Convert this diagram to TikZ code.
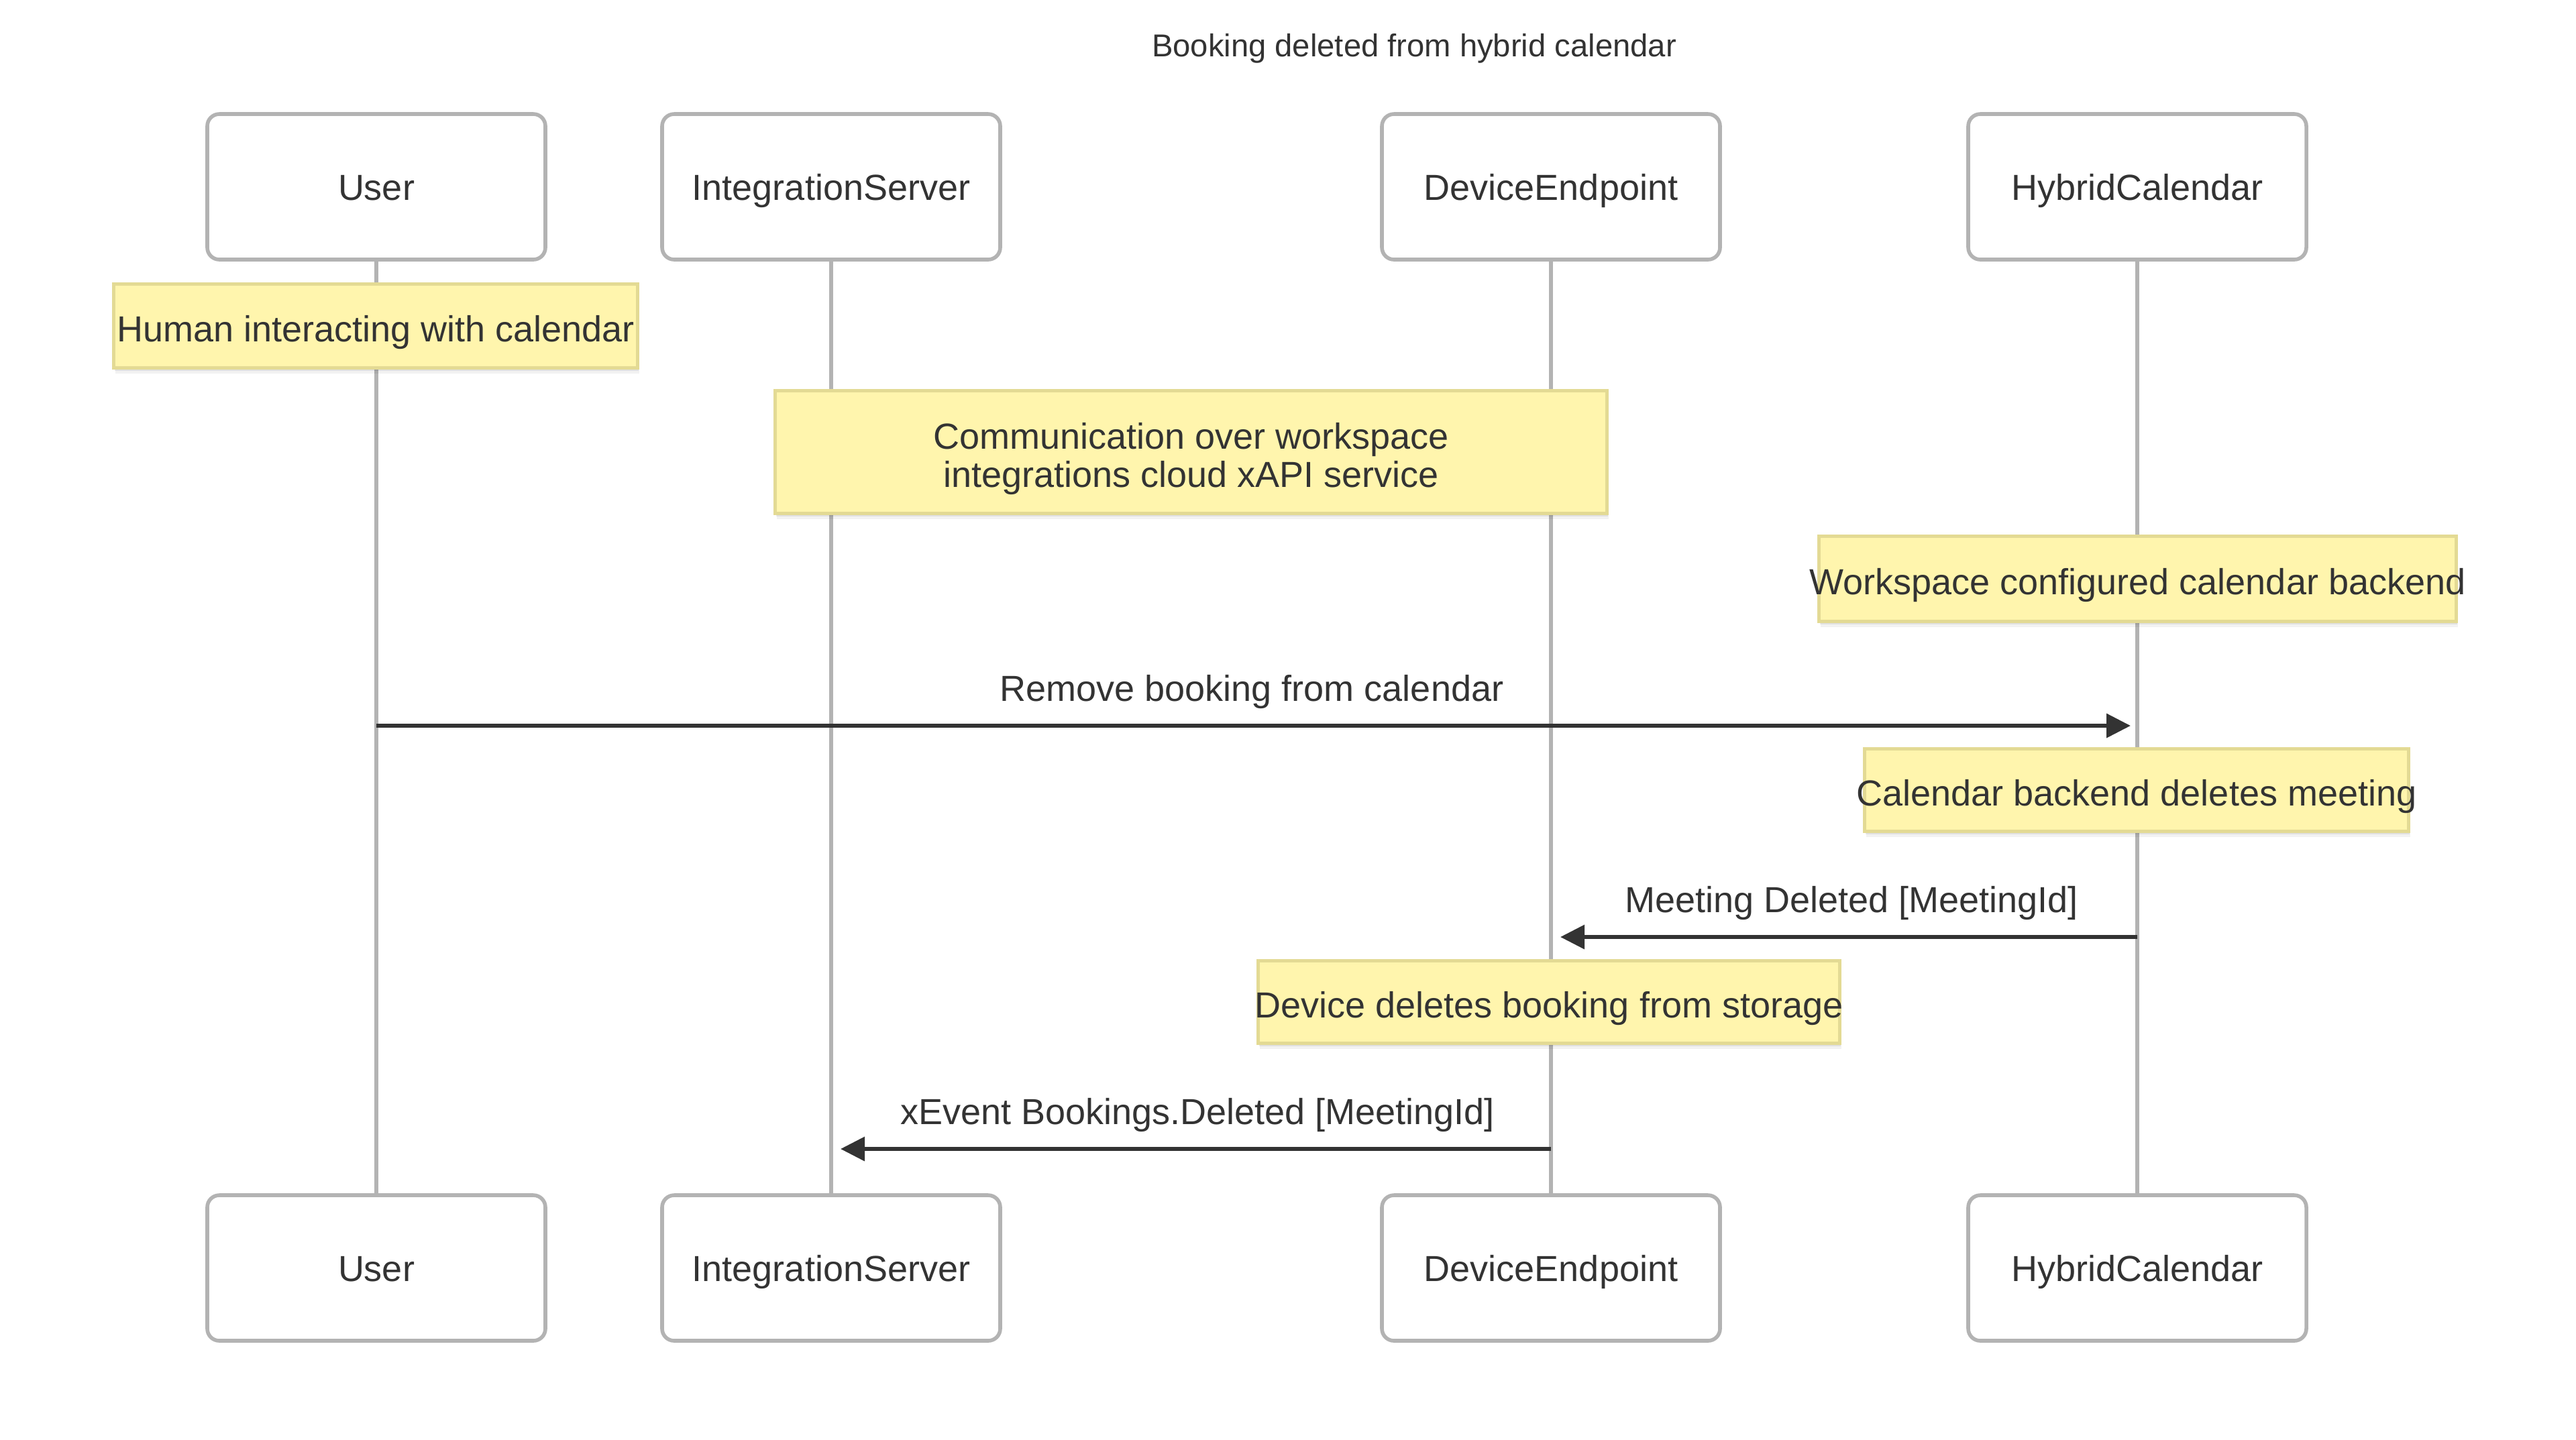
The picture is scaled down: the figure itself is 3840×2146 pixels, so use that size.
\documentclass[tikz,border=0pt]{standalone}
\usepackage{fontspec}
\setmainfont{Liberation Sans}
\usetikzlibrary{arrows.meta,shadows}
\definecolor{txt}{HTML}{333333}
\definecolor{actbd}{HTML}{B3B3B3}
\definecolor{notebg}{HTML}{FFF5AD}
\definecolor{notebd}{HTML}{E3DA94}
\tikzset{
  actor/.style={draw=actbd, fill=white, line width=1.4pt, rounded corners=4.5pt,
    minimum width=126pt, minimum height=54.25pt, inner sep=0pt,
    text=txt, font=\fontsize{13.5}{16}\selectfont, text height=9.75pt, text depth=0pt},
  lifeline/.style={draw=actbd, line width=1.4pt},
  notebox/.style={draw=notebd, fill=notebg, line width=1.3pt, inner sep=0pt,
    general shadow={shadow xshift=0.6pt, shadow yshift=-2.2pt, opacity=0.05, fill=black},
    general shadow={shadow xshift=0.4pt, shadow yshift=-1.2pt, opacity=0.07, fill=black}},
  notetext/.style={text=txt, font=\fontsize{13.5}{16}\selectfont, inner sep=0pt, anchor=base},
  msglabel/.style={text=txt, font=\fontsize{13.5}{16}\selectfont, inner sep=0pt, anchor=base},
  msg/.style={draw=txt, line width=1.5pt, -{Triangle[length=9pt,width=8.8pt]}},
  titletext/.style={text=txt, font=\fontsize{11.8}{14}\selectfont, inner sep=0pt, anchor=base}
}
\begin{document}
\begin{tikzpicture}[x=0.25pt,y=-0.25pt]
\useasboundingbox[fill=white] (0,0) rectangle (3840,2146);

\node[titletext] (title) at (2108,84) {Booking deleted from hybrid calendar};

% actors
\node[actor] (uT) at (561,278.5) {User};
\node[actor] (iT) at (1239,278.5) {IntegrationServer};
\node[actor] (dT) at (2312,278.5) {DeviceEndpoint};
\node[actor] (hT) at (3186,278.5) {HybridCalendar};
\node[actor] (uB) at (561,1890.5) {User};
\node[actor] (iB) at (1239,1890.5) {IntegrationServer};
\node[actor] (dB) at (2312,1890.5) {DeviceEndpoint};
\node[actor] (hB) at (3186,1890.5) {HybridCalendar};

% lifelines
\draw[lifeline] (uT) -- (uB);
\draw[lifeline] (iT) -- (iB);
\draw[lifeline] (dT) -- (dB);
\draw[lifeline] (hT) -- (hB);

% notes
\node[notebox, minimum width=195.25pt, minimum height=31.25pt] (n1) at (560,486) {};
\node[notetext] (n1t) at (560,509) {Human interacting with calendar};

\node[notebox, minimum width=310pt, minimum height=45.75pt] (n2) at (1775.5,674) {};
\node[notetext] (n2a) at (1775.5,669) {Communication over workspace};
\node[notetext] (n2b) at (1775.5,726) {integrations cloud xAPI service};

\node[notebox, minimum width=237.5pt, minimum height=31.75pt] (n3) at (3186.5,863) {};
\node[notetext] (n3t) at (3186.5,886) {Workspace configured calendar backend};

\node[notebox, minimum width=202.75pt, minimum height=30.75pt] (n4) at (3185,1178) {};
\node[notetext] (n4t) at (3185,1201) {Calendar backend deletes meeting};

\node[notebox, minimum width=216.75pt, minimum height=30.75pt] (n5) at (2309,1494) {};
\node[notetext] (n5t) at (2309,1517) {Device deletes booking from storage};

% messages
\coordinate (m1a) at (561,1082);
\coordinate (m1b) at (3186,1082);
\node[msglabel] (m1t) at (1866,1045) {Remove booking from calendar};
\draw[msg, shorten >=2.5pt] (m1a) -- (m1b);

\coordinate (m2a) at (3186,1397);
\coordinate (m2b) at (2312,1397);
\node[msglabel] (m2t) at (2760,1360) {Meeting Deleted [MeetingId]};
\draw[msg, shorten >=3.5pt] (m2a) -- (m2b);

\coordinate (m3a) at (2312,1713);
\coordinate (m3b) at (1239,1713);
\node[msglabel] (m3t) at (1785,1676) {xEvent Bookings.Deleted [MeetingId]};
\draw[msg, shorten >=3.5pt] (m3a) -- (m3b);
\end{tikzpicture}
\end{document}
